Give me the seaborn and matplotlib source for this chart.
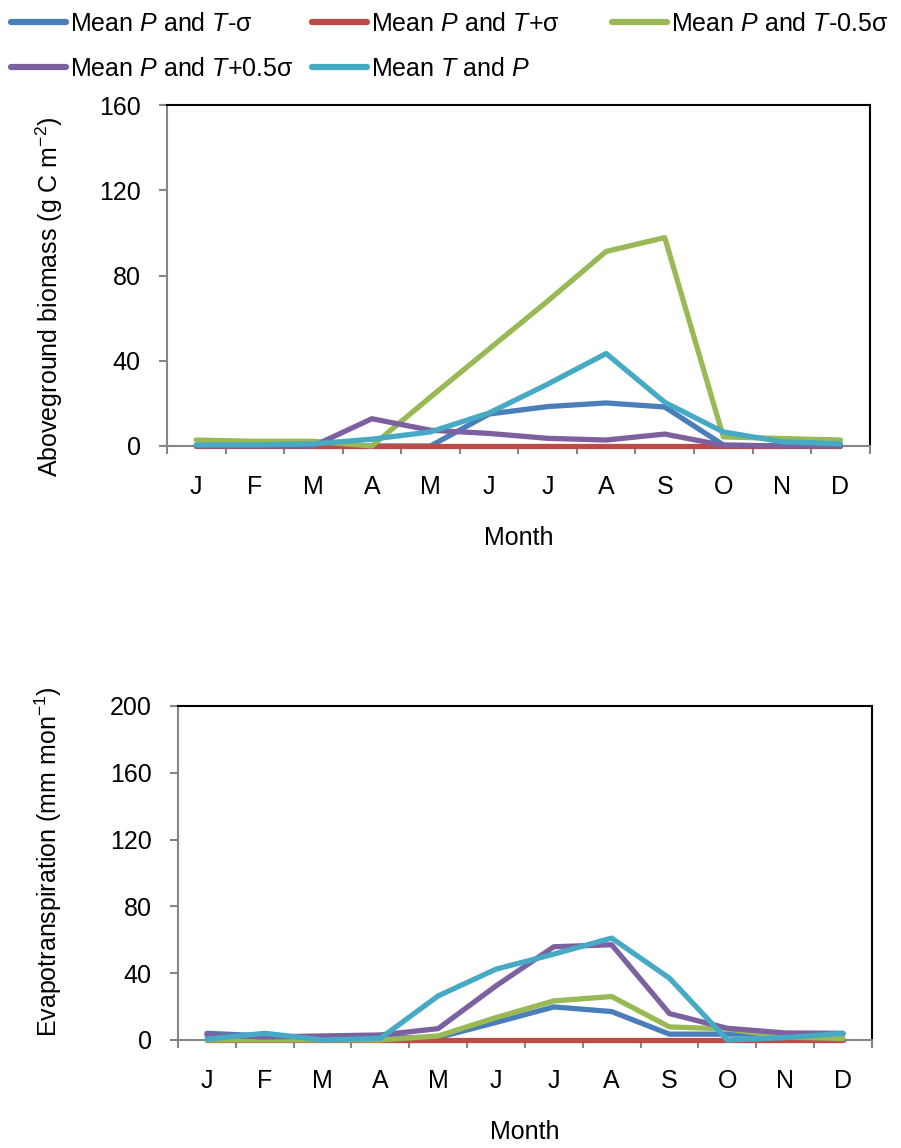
import matplotlib
matplotlib.use("Agg")
import matplotlib.pyplot as plt
import numpy as np
import pandas as pd
import seaborn as sns

months = ["J", "F", "M", "A", "M", "J", "J", "A", "S", "O", "N", "D"]

series_names = [
    r"Mean $\mathit{P}$ and $\mathit{T}$-σ",
    r"Mean $\mathit{P}$ and $\mathit{T}$+σ",
    r"Mean $\mathit{P}$ and $\mathit{T}$-0.5σ",
    r"Mean $\mathit{P}$ and $\mathit{T}$+0.5σ",
    r"Mean $\mathit{T}$ and $\mathit{P}$",
]
series_colors = ["#4a7ebb", "#be4b48", "#98b954", "#7d60a0", "#46aac5"]

# aboveground biomass (g C m-2)
agb_minus_sd = [0, 0, 0, 0, 0, 15, 18.5, 20.2, 18.3, 0.5, 0, 0]
agb_plus_sd = [0, 0, 0, 0, 0, 0, 0, 0, 0, 0, 0, 0]
agb_minus_half = [2.8, 2.2, 2.2, 0, 23, 45.5, 68, 91.3, 97.8, 4.3, 3.5, 2.8]
agb_plus_half = [0, 0, 0, 12.8, 7.4, 5.9, 3.6, 2.8, 5.6, 0.3, 0, 0]
agb_mean = [0.5, 0.5, 1, 3.2, 6.6, 15.5, 29, 43.4, 20.5, 6.6, 2, 1]

# evapotranspiration (mm mon-1)
et_minus_sd = [4, 2.4, 1.5, 1.4, 1.5, 10.5, 19.8, 17, 3.5, 3.5, 3.5, 3.5]
et_plus_sd = [0, 0, 0, 0, 0, 0, 0, 0, 0, 0, 0, 0]
et_minus_half = [0, 0, 0, 0, 2.4, 13.4, 23.4, 26, 7.8, 6.6, 1.8, 0.8]
et_plus_half = [3, 1.8, 2.4, 3, 6.8, 32.4, 55.8, 57, 15.8, 7, 4.2, 4]
et_mean = [0.5, 4, 0, 1, 26.4, 42.4, 51.4, 61, 37, 0, 1.4, 4]


def long_frame(columns):
    rows = []
    for name, values in zip(series_names, columns):
        for i, v in enumerate(values):
            rows.append({"idx": i, "value": v, "series": name})
    return pd.DataFrame(rows)


agb = long_frame([agb_minus_sd, agb_plus_sd, agb_minus_half, agb_plus_half, agb_mean])
et = long_frame([et_minus_sd, et_plus_sd, et_minus_half, et_plus_half, et_mean])

sns.set_theme(style="white")
plt.rcParams["font.family"] = ["Liberation Sans", "DejaVu Sans"]
plt.rcParams["mathtext.fontset"] = "custom"
plt.rcParams["mathtext.rm"] = "Liberation Sans"
plt.rcParams["mathtext.it"] = "Liberation Sans:italic"
plt.rcParams["mathtext.default"] = "regular"
plt.rcParams["text.color"] = "black"
plt.rcParams["axes.labelcolor"] = "black"
plt.rcParams["xtick.labelcolor"] = "black"
plt.rcParams["ytick.labelcolor"] = "black"

FS = 18
GRAY = "#868686"
palette = dict(zip(series_names, series_colors))

fig = plt.figure(figsize=(9.01, 11.48), dpi=100)
ax1 = fig.add_axes([0.1853, 0.6115, 0.780, 0.297])
ax2 = fig.add_axes([0.1976, 0.0941, 0.770, 0.291])


def style_axis(ax, ymax, ylabel, ylab_x, ylab_y, xlab_y):
    ax.set_xlim(-0.5, 11.5)
    ax.set_ylim(0, ymax)
    ax.set_yticks(np.arange(0, ymax + 1, 40))
    ax.set_xticks(np.arange(-0.5, 12, 1))
    ax.set_xticklabels([])
    ax.set_xticks(np.arange(12), minor=True)
    ax.set_xticklabels(months, minor=True)
    ax.tick_params(axis="x", which="major", direction="out", length=6, width=1.5,
                   color=GRAY, bottom=True)
    ax.tick_params(axis="x", which="minor", length=0, pad=21, labelsize=FS,
                   labelcolor="black")
    ax.tick_params(axis="y", direction="out", length=6, width=1.5, color=GRAY,
                   left=True, pad=13, labelsize=FS, labelcolor="black")
    for side in ("left", "bottom"):
        ax.spines[side].set_color(GRAY)
        ax.spines[side].set_linewidth(1.5)
    for side in ("top", "right"):
        ax.spines[side].set_color("black")
        ax.spines[side].set_linewidth(1.5)
    ax.set_xlabel("Month", fontsize=FS, va="top", color="black")
    ax.xaxis.set_label_coords(0.5, xlab_y)
    ax.set_ylabel(ylabel, fontsize=FS, color="black")
    ax.yaxis.set_label_coords(ylab_x, ylab_y)
    ax.grid(False)


sns.lineplot(data=agb, x="idx", y="value", hue="series", palette=palette,
             hue_order=series_names, linewidth=3.8, ax=ax1, legend=False, sort=False)
sns.lineplot(data=et, x="idx", y="value", hue="series", palette=palette,
             hue_order=series_names, linewidth=3.8, ax=ax2, legend=False, sort=False)
for ax in (ax1, ax2):
    for line in ax.lines:
        line.set_clip_on(False)
        line.set_zorder(3)

style_axis(ax1, 160, "Aboveground biomass (g C m$^{-2}$)", -0.145, 0.437, -0.235)
style_axis(ax2, 200, "Evapotranspiration (mm mon$^{-1}$)", -0.165, 0.533, -0.24)

# legend laid out on an even grid of three columns, like the original
handles = [plt.Line2D([], [], color=c, lw=4.5, solid_capstyle="round") for c in series_colors]
columns = [[0, 3], [1, 4], [2]]
col_x = [0.007, 0.341, 0.674]
for idxs, x0 in zip(columns, col_x):
    leg = fig.legend([handles[i] for i in idxs], [series_names[i] for i in idxs],
                     loc="upper left", bbox_to_anchor=(x0, 0.994), ncol=1, frameon=False,
                     fontsize=FS, handlelength=2.2, handletextpad=0.15,
                     labelspacing=0.85, borderpad=0.1, borderaxespad=0.1)
    for t in leg.get_texts():
        t.set_color("black")

fig.savefig("out.png", dpi=100)
